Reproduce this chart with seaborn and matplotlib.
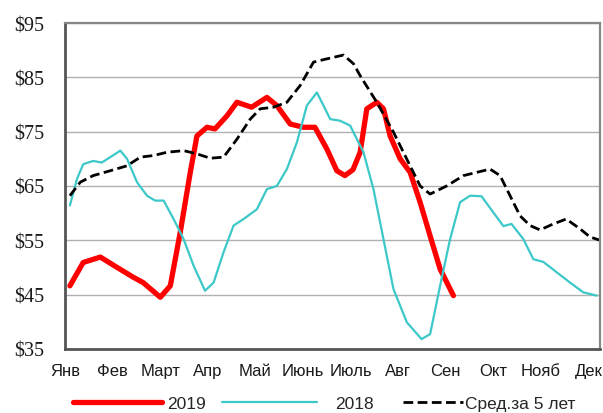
import matplotlib
matplotlib.use("Agg")
import matplotlib.pyplot as plt
import seaborn as sns

months = ["Янв", "Фев", "Март", "Апр", "Май", "Июнь", "Июль", "Авг", "Сен", "Окт", "Нояб", "Дек"]
y_ticks = [35, 45, 55, 65, 75, 85, 95]

# x is in months from start of January
x_2019 = [0.10, 0.38, 0.74, 1.09, 1.43, 1.64, 2.00, 2.21, 2.42, 2.63, 2.77, 2.98, 3.15, 3.40,
          3.61, 3.92, 4.24, 4.45, 4.73, 5.01, 5.25, 5.50, 5.71, 5.88, 6.05, 6.20, 6.34, 6.55,
          6.69, 6.83, 7.04, 7.25, 7.46, 7.67, 7.88, 8.16]
v_2019 = [46.6, 50.9, 51.9, 50.0, 48.2, 47.2, 44.5, 46.6, 56.5, 67.5, 74.2, 75.8, 75.5, 77.9,
          80.4, 79.5, 81.3, 79.8, 76.4, 75.8, 75.8, 71.8, 67.8, 66.9, 68.0, 71.2, 79.2, 80.4,
          79.2, 74.2, 70.0, 67.5, 62.0, 55.8, 49.7, 44.8]

x_2018 = [0.10, 0.25, 0.38, 0.59, 0.77, 0.95, 1.16, 1.30, 1.51, 1.72, 1.89, 2.07, 2.28, 2.49,
          2.70, 2.94, 3.12, 3.33, 3.54, 3.75, 4.03, 4.24, 4.45, 4.66, 4.87, 5.08, 5.29, 5.43,
          5.57, 5.78, 5.99, 6.27, 6.48, 6.69, 6.90, 7.18, 7.49, 7.67, 7.88, 8.09, 8.30, 8.51,
          8.75, 9.00, 9.21, 9.38, 9.63, 9.84, 10.05, 10.33, 10.61, 10.89, 11.17]
v_2018 = [61.4, 66.3, 69.0, 69.6, 69.3, 70.3, 71.5, 70.0, 65.7, 63.2, 62.3, 62.3, 58.9, 55.2,
          50.3, 45.7, 47.2, 52.8, 57.7, 58.9, 60.7, 64.4, 65.0, 68.1, 73.0, 79.8, 82.2, 79.8,
          77.3, 77.0, 76.1, 71.2, 64.4, 55.2, 46.0, 39.9, 36.8, 37.7, 46.6, 55.2, 62.0, 63.2,
          63.1, 60.1, 57.6, 58.0, 55.2, 51.5, 51.0, 49.1, 47.2, 45.4, 44.8]

x_avg = [0.10, 0.32, 0.59, 0.95, 1.30, 1.58, 1.86, 2.14, 2.49, 2.77, 3.05, 3.33, 3.61, 3.89,
         4.10, 4.38, 4.66, 4.94, 5.22, 5.50, 5.85, 6.06, 6.20, 6.55, 6.90, 7.25, 7.46, 7.67,
         8.02, 8.37, 8.65, 8.93, 9.14, 9.35, 9.56, 9.77, 9.98, 10.26, 10.53, 10.82, 11.03, 11.24]
v_avg = [63.2, 65.7, 66.9, 67.8, 68.7, 70.3, 70.6, 71.2, 71.5, 70.9, 70.1, 70.3, 73.6, 77.3,
         79.2, 79.5, 80.4, 83.5, 87.8, 88.4, 89.1, 87.5, 85.3, 80.4, 74.9, 68.7, 65.0, 63.5,
         65.0, 66.9, 67.5, 68.1, 66.9, 63.2, 59.5, 57.7, 56.9, 58.0, 58.9, 57.1, 55.6, 55.0]

sns.set_style("white")

fig = plt.figure(figsize=(6.03, 4.14), dpi=100)
ax = fig.add_axes([0.108, 0.155, 0.887, 0.787])

ax.grid(axis="y", color="#b0b0b0", linewidth=1.0, zorder=0)
sns.lineplot(x=x_2019, y=v_2019, ax=ax, color="#ff0000", linewidth=3.8, label="2019")
sns.lineplot(x=x_2018, y=v_2018, ax=ax, color="#3cc8c8", linewidth=1.6, label="2018")
sns.lineplot(x=x_avg, y=v_avg, ax=ax, color="black", linewidth=2.0, label="Сред.за 5 лет",
             linestyle=(0, (3.5, 1.6)))

ax.set_xlim(0, 11.24)
ax.set_ylim(35, 95)
ax.set_yticks(y_ticks)
ax.set_yticklabels([f"${v}" for v in y_ticks], fontfamily="Liberation Serif", fontsize=14.5,
                   color="#1a1a1a")
ax.set_xticks([i * 1.0 for i in range(len(months))])
ax.set_xticklabels(months, fontfamily="Liberation Sans", fontsize=12, color="#1a1a1a")
ax.tick_params(axis="x", length=0, pad=10)
ax.tick_params(axis="y", length=0, pad=15)
ax.set_xlabel("")
ax.set_ylabel("")
for side in ["left", "bottom"]:
    ax.spines[side].set_color("#555555")
    ax.spines[side].set_linewidth(2.0)
for side in ["top", "right"]:
    ax.spines[side].set_color("#888888")
    ax.spines[side].set_linewidth(1.6)

handles, labels = ax.get_legend_handles_labels()
ax.get_legend().remove()
# Excel-like legend with uneven entry spacing: one legend per entry
legend_spots = [(0.121, 5.1, 0.35), (0.368, 5.5, 1.0), (0.668, 3.45, 0.12)]
for h, lab, (x0, hl, tp) in zip(handles, labels, legend_spots):
    fig.legend([h], [lab], loc="center left", bbox_to_anchor=(x0, 0.024), frameon=False,
               borderpad=0, borderaxespad=0, handlelength=hl, handletextpad=tp,
               prop={"family": "Liberation Sans", "size": 12.5})

fig.savefig("out.png", dpi=100)
